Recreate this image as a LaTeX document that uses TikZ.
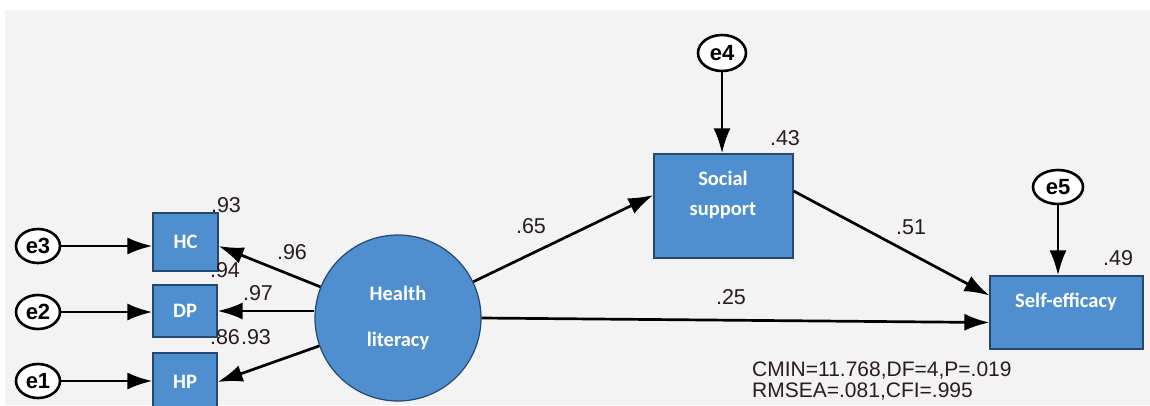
\documentclass[tikz,border=0pt]{standalone}
\usepackage{fontspec}
\setmainfont{Liberation Sans}
\newfontfamily\boxfont{Carlito}
\usetikzlibrary{arrows.meta,calc,shapes.geometric}
\definecolor{bgc}{RGB}{243,243,243}
\definecolor{boxblue}{RGB}{80,143,207}
\definecolor{boxedge}{RGB}{38,72,112}
\definecolor{coef}{RGB}{42,28,28}
\begin{document}
\begin{tikzpicture}[x=1pt,y=-1pt,
  arr/.style={line width=2.7pt,-{Latex[length=25pt,width=17pt]}},
  errnode/.style={ellipse,draw,line width=2.6pt,fill=white,minimum width=44pt,minimum height=34pt,inner sep=0pt,font=\bfseries\fontsize{22}{24}\selectfont},
  obs/.style={rectangle,draw=boxedge,line width=1.2pt,fill=boxblue,text=white,font=\boxfont\bfseries\fontsize{20.5}{22}\selectfont,inner sep=0pt},
  boxtxt/.style={text=white,font=\boxfont\bfseries\fontsize{20.5}{22}\selectfont,inner sep=0pt,align=center},
  coeflab/.style={inner sep=0pt,text=coef,font=\fontsize{21.5}{24}\selectfont}]
\useasboundingbox (0,0) rectangle (1150,405);
\clip (0,0) rectangle (1150,405);
\fill[white] (0,0) rectangle (1150,405);
\fill[bgc] (5,10) rectangle (1150,405);

% error terms
\node[errnode] (e3) at (38,246) {e3};
\node[errnode] (e2) at (38,312) {e2};
\node[errnode] (e1) at (38,381) {e1};
\node[errnode,minimum width=48pt,minimum height=36pt] (e4) at (722,53) {e4};
\node[errnode,minimum width=50pt,minimum height=34pt] (e5) at (1058,187) {e5};

% observed variables
\node[obs,minimum width=65pt,minimum height=58pt] (HC) at (185.5,242) {HC};
\node[obs,minimum width=64pt,minimum height=52pt] (DP) at (185,311) {DP};
\node[obs,minimum width=64pt,minimum height=58pt] (HP) at (185,382) {HP};

% latent
\node[circle,draw=boxedge,line width=1.2pt,fill=boxblue,minimum size=166pt,inner sep=0pt,
      text=white,font=\boxfont\bfseries\fontsize{20.5}{22}\selectfont,align=center] (HL) at (398,318) {Health\\[24pt]literacy};

\node[obs,minimum width=139pt,minimum height=104pt] (Soc) at (723.5,206) {};
\node[boxtxt] (SocT) at (723,195) {Social\\[8pt]support};
\node[obs,minimum width=153pt,minimum height=73pt] (Self) at (1066.5,312.5) {};
\node[boxtxt] (SelfT) at (1066,302) {Self-efficacy};

% arrows
\draw[arr] (e3) -- (e3 -| HC.west);
\draw[arr] (e2) -- (e2 -| DP.west);
\draw[arr] (e1) -- (e1 -| HP.west);
\draw[arr] (e4) -- (e4 |- Soc.north);
\draw[arr] (e5) -- (e5 |- Self.north);
\draw[arr] (HL) -- ($(HC.east)+(0,4)$);
\draw[arr] (DP.east -| HL.west) -- (DP.east);
\draw[arr] (HL) -- (HP.east);
\draw[arr] (HL) -- ($(Soc.west)+(0,-11)$);
\draw[arr] (HL.east) -- ($(Self.west)+(0,10)$);
\draw[arr] ($(Soc.east)+(0,-15)$) -- ($(Self.west)+(0,-17)$);

% coefficients
\node[coeflab] (c93a) at (226,205) {.93};
\node[coeflab] (c94) at (225,270) {.94};
\node[coeflab] (c96) at (292,252) {.96};
\node[coeflab] (c97) at (258,293) {.97};
\node[coeflab] (c86) at (225,337) {.86};
\node[coeflab] (c93b) at (256,337) {.93};
\node[coeflab] (c65) at (531,226) {.65};
\node[coeflab] (c51) at (911,227) {.51};
\node[coeflab] (c25) at (731,297) {.25};
\node[coeflab] (c43) at (785,138) {.43};
\node[coeflab] (c49) at (1118,258) {.49};

\node[coeflab,anchor=west,align=left,font=\fontsize{21}{21}\selectfont] (fit) at (752,381)
  {CMIN=11.768,DF=4,P=.019\\RMSEA=.081,CFI=.995};
\end{tikzpicture}
\end{document}
